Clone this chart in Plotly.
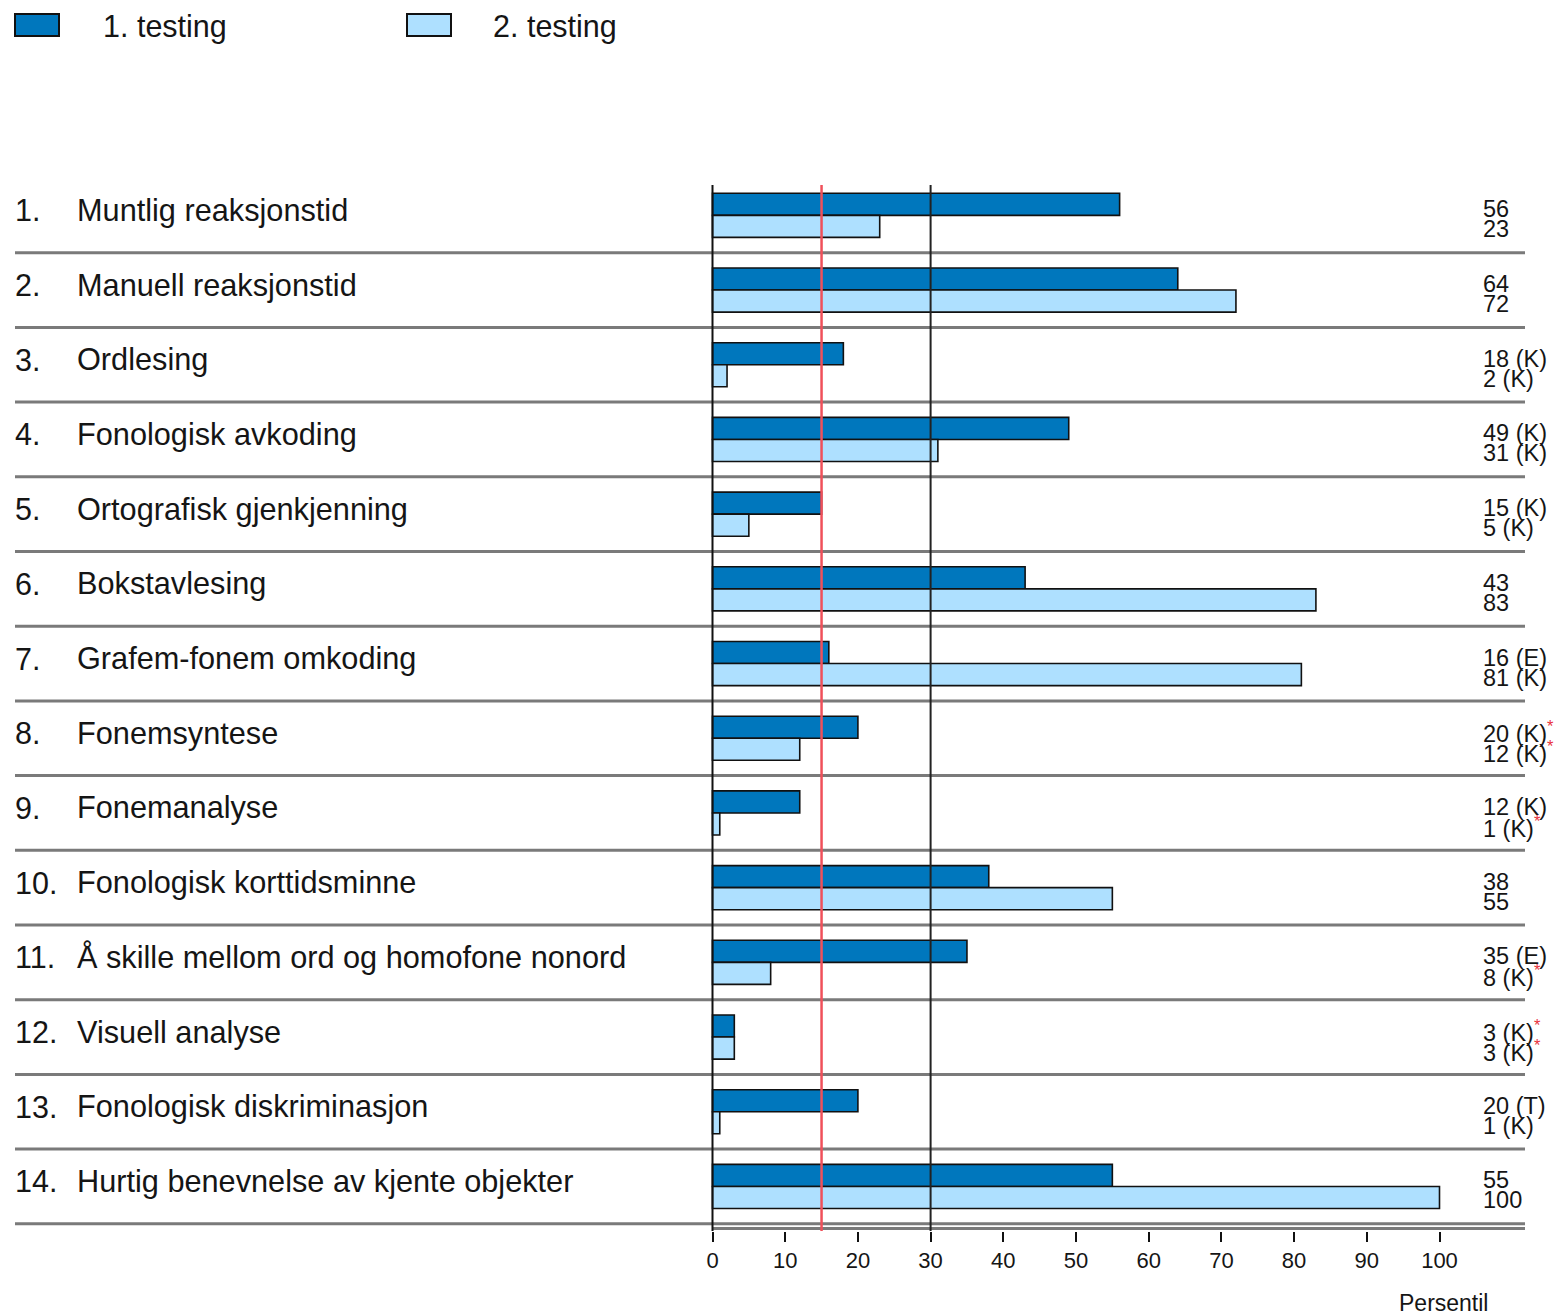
import plotly.graph_objects as go

# ---------------- data ----------------
numbers = ["1.", "2.", "3.", "4.", "5.", "6.", "7.", "8.", "9.", "10.", "11.", "12.", "13.", "14."]
labels = [
    "Muntlig reaksjonstid",
    "Manuell reaksjonstid",
    "Ordlesing",
    "Fonologisk avkoding",
    "Ortografisk gjenkjenning",
    "Bokstavlesing",
    "Grafem-fonem omkoding",
    "Fonemsyntese",
    "Fonemanalyse",
    "Fonologisk korttidsminne",
    "Å skille mellom ord og homofone nonord",
    "Visuell analyse",
    "Fonologisk diskriminasjon",
    "Hurtig benevnelse av kjente objekter",
]
test1 = [56, 64, 18, 49, 15, 43, 16, 20, 12, 38, 35, 3, 20, 55]
test2 = [23, 72, 2, 31, 5, 83, 81, 12, 1, 55, 8, 3, 1, 100]
code1 = ["", "", "K", "K", "K", "", "E", "K", "K", "", "E", "K", "T", ""]
code2 = ["", "", "K", "K", "K", "", "K", "K", "K", "", "K", "K", "K", ""]
star1 = [0, 0, 0, 0, 0, 0, 0, 1, 0, 0, 0, 1, 0, 0]
star2 = [0, 0, 0, 0, 0, 0, 0, 1, 1, 0, 1, 1, 0, 0]
series_names = ["1. testing", "2. testing"]
tick_vals = [0, 10, 20, 30, 40, 50, 60, 70, 80, 90, 100]
ref_red = 15
ref_black = 30
axis_title = "Persentil"

# ---------------- styling / geometry ----------------
W, H = 1555, 1315
ML, MR, MT, MB = 15, 30, 178, 84
PW = W - ML - MR
PH = H - MT - MB
ROW_PX = 74.7
X0_PX, X100_PX = 712.5, 1439.5
PPU = (X100_PX - X0_PX) / 100.0
XMIN = (ML - X0_PX) / PPU
XMAX = (W - MR - X0_PX) / PPU
Y_TOP = -0.5
Y_BOT = Y_TOP + PH / ROW_PX

DARK = "#0077bd"
LIGHT = "#aee0ff"
FONT = "Liberation Sans, Arial, sans-serif"
TXT = "#151515"
GRAY = "#7a7a7a"


def px_x(p):
    return (p - ML) / PW


def px_y(p):
    return (H - MB - p) / PH


rows = list(range(len(labels)))

fig = go.Figure()
fig.add_trace(go.Bar(
    x=test1, y=rows, orientation="h", name=series_names[0],
    marker=dict(color=DARK, line=dict(color="#111111", width=1.6)),
    hoverinfo="x",
))
fig.add_trace(go.Bar(
    x=test2, y=rows, orientation="h", name=series_names[1],
    marker=dict(color=LIGHT, line=dict(color="#111111", width=1.6)),
    hoverinfo="x",
))

shapes = []
annotations = []

# row separators
for i in rows:
    shapes.append(dict(type="line", xref="x", yref="y", x0=XMIN, x1=XMAX,
                       y0=i + 0.5, y1=i + 0.5, line=dict(color=GRAY, width=3),
                       layer="below"))
# axis baseline (second line)
y_axis_line = Y_BOT - 2.5 / ROW_PX
shapes.append(dict(type="line", xref="x", yref="y", x0=0, x1=XMAX,
                   y0=y_axis_line, y1=y_axis_line, line=dict(color=GRAY, width=3),
                   layer="below"))

# vertical reference lines
y_line_top = Y_TOP + 7 / ROW_PX
for xv, col, wd in [(0, "#111111", 2), (ref_black, "#222222", 2), (ref_red, "#f0505a", 2.5)]:
    shapes.append(dict(type="line", xref="x", yref="y", x0=xv, x1=xv,
                       y0=y_line_top, y1=Y_BOT, line=dict(color=col, width=wd),
                       layer="above"))

# row labels and values
star = "<span style='color:#e8323c'><sup>*</sup></span>"
for i in rows:
    annotations.append(dict(xref="paper", yref="y", x=px_x(13), y=i, yshift=5,
                            text=numbers[i], showarrow=False, xanchor="left",
                            yanchor="middle", font=dict(family=FONT, size=30.5, color=TXT)))
    annotations.append(dict(xref="paper", yref="y", x=px_x(75), y=i, yshift=5,
                            text=labels[i], showarrow=False, xanchor="left",
                            yanchor="middle", font=dict(family=FONT, size=30.7, color=TXT)))
    t1 = str(test1[i]) + (" (" + code1[i] + ")" if code1[i] else "") + (star if star1[i] else "")
    t2 = str(test2[i]) + (" (" + code2[i] + ")" if code2[i] else "") + (star if star2[i] else "")
    annotations.append(dict(xref="paper", yref="y", x=px_x(1481), y=i, yshift=6,
                            text=t1, showarrow=False, xanchor="left",
                            yanchor="middle", font=dict(family=FONT, size=23.5, color=TXT)))
    annotations.append(dict(xref="paper", yref="y", x=px_x(1481), y=i, yshift=-14,
                            text=t2, showarrow=False, xanchor="left",
                            yanchor="middle", font=dict(family=FONT, size=23.5, color=TXT)))

# axis title
annotations.append(dict(xref="paper", yref="paper", x=px_x(1443), y=px_y(1303),
                        text=axis_title, showarrow=False, xanchor="center",
                        yanchor="middle", font=dict(family=FONT, size=23, color=TXT)))

# manual legend
for bx, tx, col, name in [(15, 101, DARK, series_names[0]), (407, 491, LIGHT, series_names[1])]:
    shapes.append(dict(type="rect", xref="paper", yref="paper",
                       x0=px_x(bx), x1=px_x(bx + 44), y0=px_y(36), y1=px_y(14),
                       fillcolor=col, line=dict(color="#111111", width=2)))
    annotations.append(dict(xref="paper", yref="paper", x=px_x(tx), y=px_y(26),
                            text=name, showarrow=False, xanchor="left", yanchor="middle",
                            font=dict(family=FONT, size=30.5, color=TXT)))

fig.update_layout(
    width=W, height=H,
    margin=dict(l=ML, r=MR, t=MT, b=MB, pad=0),
    paper_bgcolor="white", plot_bgcolor="white",
    barmode="group", bargap=0.41, bargroupgap=0,
    showlegend=False,
    shapes=shapes, annotations=annotations,
    font=dict(family=FONT, color=TXT),
    xaxis=dict(range=[XMIN, XMAX], tickvals=tick_vals, ticks="outside", ticklen=10,
               tickwidth=1.5, tickcolor="#111111", showgrid=False, zeroline=False,
               showline=False, tickfont=dict(family=FONT, size=22, color=TXT)),
    yaxis=dict(range=[Y_BOT, Y_TOP], showticklabels=False, showgrid=False,
               zeroline=False, showline=False, ticks=""),
)

fig.write_html("out.html", config={"displayModeBar": False},
               post_script="document.body.style.margin='0';document.body.style.padding='0';")
